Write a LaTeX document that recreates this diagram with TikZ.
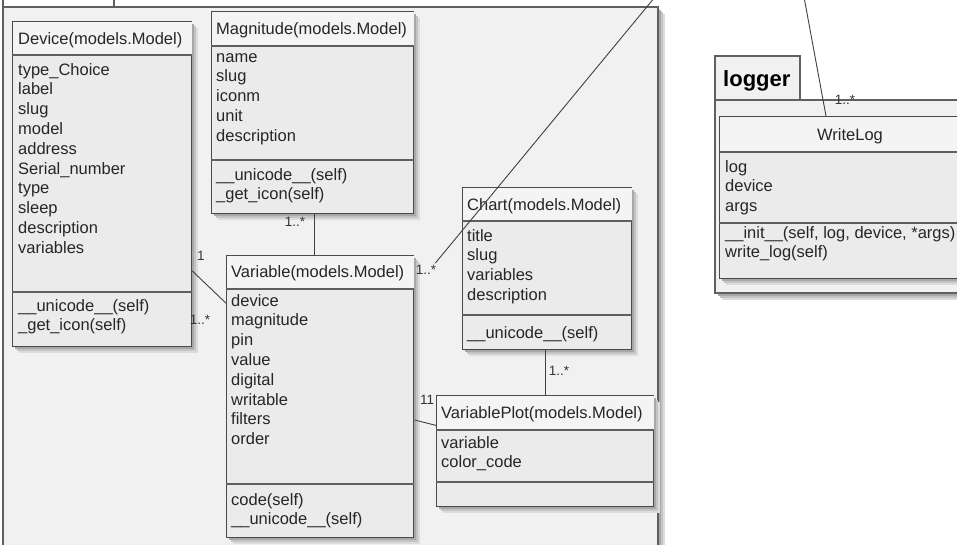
\documentclass[tikz,border=0pt]{standalone}
\usepackage{fontspec}
\setmainfont{Liberation Sans}
\usetikzlibrary{calc}

\definecolor{pkgfill}{HTML}{F1F1F1}
\definecolor{boxfill}{HTML}{EBEBEB}
\definecolor{hdrfill}{HTML}{F4F4F4}
\definecolor{edge}{HTML}{4A4A4A}
\definecolor{sepline}{HTML}{5E5E5E}
\definecolor{shadeA}{HTML}{DCDCDC}
\definecolor{shadeB}{HTML}{C4C4C4}
\definecolor{shadeC}{HTML}{A8A8A8}

\newcommand\umltext{\fontsize{16.5}{19.8}\selectfont}
\newcommand\multtext{\fontsize{13.5}{14}\selectfont}

\tikzset{
  pkg/.style={draw=gray!75!black, fill=pkgfill, line width=1.4pt},
  pkgtab/.style={draw=gray!75!black, fill=white, line width=1.4pt},
  umlbox/.style={draw=edge, fill=boxfill, line width=1.4pt, anchor=north west, inner sep=0pt},
  sepl/.style={draw=sepline, line width=1.6pt},
  ctext/.style={anchor=base west, inner sep=0pt, align=left, font=\umltext, text=black!85},
  % multi-line compartments: top of the first line's strut sits at the node's north
  clines/.style={ctext, anchor=north west, execute at begin node=\strut},
  mult/.style={inner sep=0pt, font=\multtext, text=black!80},
  link/.style={draw=black!75, line width=0.9pt},
}

% soft shadow below and right of a rectangle: left, top, width, height
\newcommand\softshadow[4]{%
  \fill[shadeA] ({#1+7},{#2+7}) rectangle ++(#3,#4);
  \fill[shadeB] ({#1+5},{#2+5}) rectangle ++(#3,#4);
  \fill[shadeC] ({#1+3},{#2+3}) rectangle ++(#3,#4);
}

% class box: name, left, top, width, height, header depth, methods offset
\newcommand\classbox[7]{%
  \softshadow{#2}{#3}{#4}{#5}
  \node[umlbox, minimum width=#4pt, minimum height=#5pt] (#1) at (#2,#3) {};
  \fill[hdrfill] ($(#1.north west)+(0.7,0.7)$) rectangle ($(#1.north east)+(-0.7,#6)$);
  \draw[sepl] ($(#1.north west)+(0,#6)$) -- ($(#1.north east)+(0,#6)$);
  \draw[sepl] ($(#1.north west)+(0,#7)$) -- ($(#1.north east)+(0,#7)$);
}

\begin{document}
\begin{tikzpicture}[x=1pt,y=-1pt]
\useasboundingbox (0,0) rectangle (957,544);
\clip (0,0) rectangle (957,544);
\fill[white] (0,0) rectangle (957,544);

% main package frame
\draw[pkgtab] (3,-10) rectangle (114,7);
\softshadow{3}{7}{655}{580}
\draw[pkg] (3,7) rectangle (658,590);

% logger package
\draw[pkgtab, fill=pkgfill] (715,56) rectangle (800,100);
\node[anchor=base west, inner sep=0pt, font=\fontsize{22}{24}\selectfont\bfseries] (loggername) at (723,86) {logger};
\softshadow{715}{100}{275}{193}
\draw[pkg] (715,100) rectangle (990,293);

% classes
\classbox{dev}{12}{21}{179}{325}{34}{271}
\node[ctext] (dev-h) at (18,44) {Device(models.Model)};
\node[clines] (dev-a) at (18,63) {type\_Choice\\label\\slug\\model\\address\\Serial\_number\\type\\sleep\\description\\variables};
\node[clines] (dev-m) at (18,299) {\_\_unicode\_\_(self)\\\_get\_icon(self)};

\classbox{mag}{211}{11}{202}{202}{35}{149}
\node[ctext] (mag-h) at (216,34) {Magnitude(models.Model)};
\node[clines] (mag-a) at (216,53) {name\\slug\\iconm\\unit\\description};
\node[clines] (mag-m) at (216,168) {\_\_unicode\_\_(self)\\\_get\_icon(self)};

\classbox{var}{226}{255}{187}{282}{34}{229}
\node[ctext] (var-h) at (231,277) {Variable(models.Model)};
\node[clines] (var-a) at (231,294) {device\\magnitude\\pin\\value\\digital\\writable\\filters\\order};
\node[clines] (var-m) at (231,493) {code(self)\\\_\_unicode\_\_(self)};

\classbox{chart}{462}{187}{169}{162}{34}{128}
\node[ctext] (chart-h) at (467,210) {Chart(models.Model)};
\node[clines] (chart-a) at (467,229) {title\\slug\\variables\\description};
\node[clines] (chart-m) at (467,324) {\_\_unicode\_\_(self)};

\classbox{vplot}{436}{395}{217}{111}{35}{87}
\node[ctext] (vplot-h) at (441,418) {VariablePlot(models.Model)};
\node[clines] (vplot-a) at (441,436) {variable\\color\_code};

\classbox{wl}{719}{116}{262}{162}{36}{107}
\node[ctext, anchor=base] (wl-h) at (850,140) {WriteLog};
\node[clines] (wl-a) at (725,160) {log\\device\\args};
\node[clines] (wl-m) at (725,226) {\_\_init\_\_(self, log, device, *args)\\write\_log(self)};

% associations
\draw[link] ($(mag.south)+(2,0)$) coordinate (mv) -- (mv |- var.north);
\node[mult] (m-mv) at (295,222) {1..*};

\draw[link] ($(dev.north east)!0.766!(dev.south east)$) -- ($(var.north west)!0.17!(var.south west)$);
\node[mult] (m-dv1) at (201,256) {1};
\node[mult] (m-dv2) at (200,320) {1..*};

\coordinate (upA) at (655,-3);
\draw[link] ($(var.north east)+(21,8)$) -- (upA);
\node[mult] (m-vc) at (426,270) {1..*};

\draw[link] ($(var.north east)!0.582!(var.south east)$) -- ($(vplot.north west)!0.27!(vplot.south west)$);
\node[mult] (m-vp) at (427,400) {11};

\draw[link] ($(chart.south)+(-2,0)$) coordinate (cp) -- (cp |- vplot.north);
\node[mult] (m-cp) at (559,371) {1..*};

\coordinate (upB) at (804,-3);
\draw[link] ($(wl.north west)+(107,0)$) -- (upB);
\node[mult] (m-wl) at (845,100) {1..*};
\end{tikzpicture}
\end{document}
